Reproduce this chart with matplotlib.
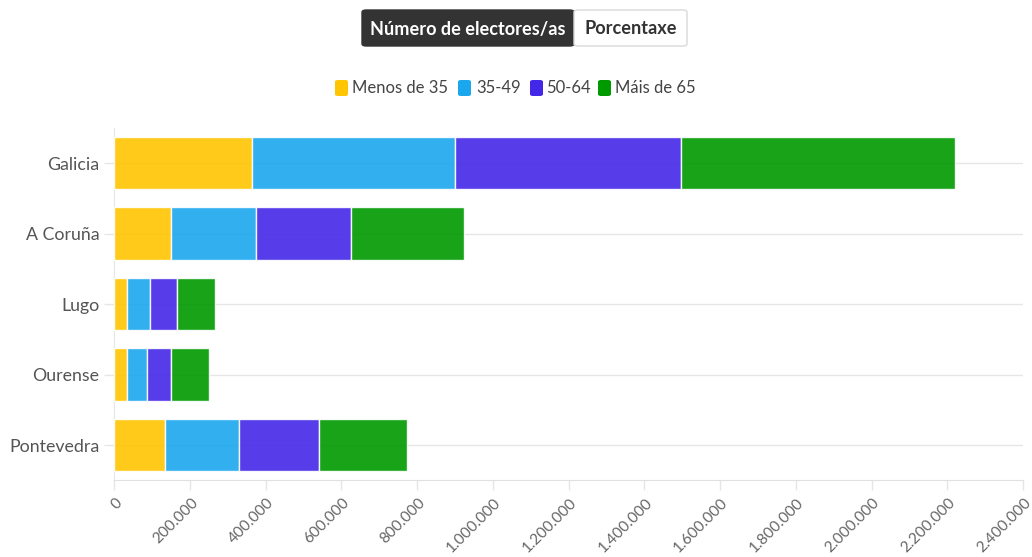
import matplotlib
matplotlib.use("Agg")
import matplotlib.pyplot as plt
from matplotlib.patches import FancyBboxPatch
from matplotlib.ticker import FuncFormatter
from matplotlib.transforms import ScaledTranslation

categories = ["Galicia", "A Coruña", "Lugo", "Ourense", "Pontevedra"]
series_names = ["Menos de 35", "35-49", "50-64", "Máis de 65"]
menos35 = [364000, 150500, 35000, 33500, 134500]
s35_49 = [536000, 224500, 59000, 53000, 196000]
s50_64 = [597000, 250000, 72000, 65000, 209500]
mais65 = [723000, 299000, 101000, 100000, 232500]
series_values = [menos35, s35_49, s50_64, mais65]
colors = ["#ffc500", "#1aa7ee", "#4328e7", "#009900"]
xticks = list(range(0, 2400001, 200000))

plt.rcParams['font.family'] = ['Lato', 'DejaVu Sans']

W, H = 1032, 557
fig = plt.figure(figsize=(W / 100, H / 100), dpi=100)

left, right = 114, 1023
top, bottom = 127.75, 480.25
ax = fig.add_axes([left / W, 1 - bottom / H, (right - left) / W, (bottom - top) / H])

ypos = list(range(len(categories)))
cum = [0] * len(categories)
for name, vals, c in zip(series_names, series_values, colors):
    ax.barh(ypos, vals, left=cum, height=0.75, color=c, alpha=0.9,
            edgecolor="white", linewidth=1.0, zorder=3)
    cum = [a + b for a, b in zip(cum, vals)]

ax.set_ylim(len(categories) - 0.5, -0.5)
ax.set_xlim(0, 2400000)
ax.set_yticks(ypos)
ax.set_yticklabels(categories)
ax.set_xticks(xticks)
ax.xaxis.set_major_formatter(FuncFormatter(lambda v, p: f"{int(v):,}".replace(",", ".")))

ax.tick_params(axis="y", length=7.2, color="#e6e6e6", width=1, pad=3.5,
               labelsize=12.8, labelcolor="#555555")
ax.tick_params(axis="x", length=7.2, color="#e6e6e6", width=1, pad=7.5,
               labelsize=11.1, labelcolor="#666666")

shift = ScaledTranslation(0.06, 0, fig.dpi_scale_trans)
for lab in ax.get_xticklabels():
    lab.set_rotation(45)
    lab.set_ha("right")
    lab.set_va("center")
    lab.set_rotation_mode("anchor")
    lab.set_transform(lab.get_transform() + shift)

ax.grid(axis="y", color="#e6e6e6", linewidth=1, zorder=0)
ax.grid(axis="x", visible=False)
for s in ["top", "right"]:
    ax.spines[s].set_visible(False)
ax.spines["left"].set_color("#e6e6e6")
ax.spines["bottom"].set_color("#e0e0e0")
ax.set_axisbelow(True)

# Toggle buttons (top)
def px(x, y):
    return x / W, 1 - y / H

bx0, bx1, bx2 = 362, 574, 687
by0, by1 = 10, 46
fig.patches.append(FancyBboxPatch(px(bx0, by1), (bx1 - bx0) / W, (by1 - by0) / H,
                                  boxstyle="round,pad=0,rounding_size=0.004",
                                  transform=fig.transFigure, facecolor="#333333",
                                  edgecolor="#333333", linewidth=1))
fig.patches.append(FancyBboxPatch(px(bx1, by1), (bx2 - bx1) / W, (by1 - by0) / H,
                                  boxstyle="round,pad=0,rounding_size=0.004",
                                  transform=fig.transFigure, facecolor="white",
                                  edgecolor="#d9d9d9", linewidth=1))
fig.text(*px((bx0 + bx1) / 2, 29), "Número de electores/as", ha="center", va="center",
         fontsize=13.1, fontweight="bold", color="white")
fig.text(*px((bx1 + bx2) / 2, 29), "Porcentaxe", ha="center", va="center",
         fontsize=13.1, fontweight="bold", color="#333333")

# Legend
swatch_x = [335, 458, 530, 598]
text_x = [352, 476, 546, 615]
ly = 88
for sx, tx, name, c in zip(swatch_x, text_x, series_names, colors):
    fig.patches.append(FancyBboxPatch(px(sx, ly + 8), 13 / W, 16 / H,
                                      boxstyle="round,pad=0,rounding_size=0.003",
                                      transform=fig.transFigure, facecolor=c,
                                      edgecolor="none"))
    fig.text(*px(tx, ly), name, ha="left", va="center", fontsize=12, color="#444444")

fig.savefig("out.png", dpi=100, facecolor="white")
